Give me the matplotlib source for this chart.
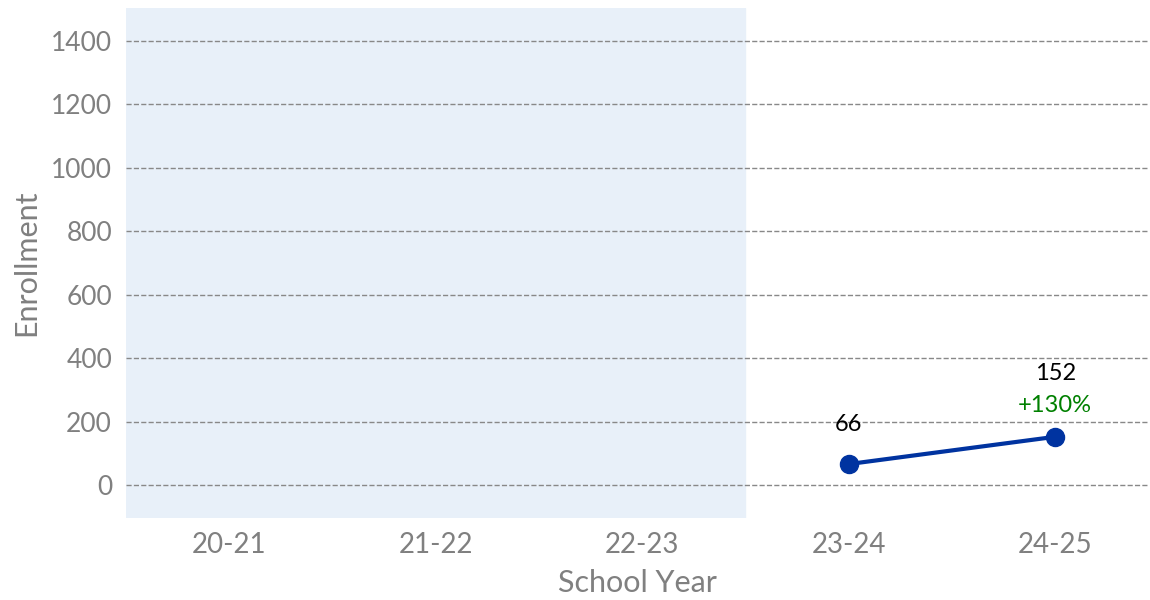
import matplotlib.pyplot as plt

plt.rcParams['font.family'] = ['Lato', 'DejaVu Sans']

years = ['20-21', '21-22', '22-23', '23-24', '24-25']
enrollment = [None, None, None, 66, 152]
value_labels = ['66', '152']
change_labels = ['', '+130%']
yticks = [0, 200, 400, 600, 800, 1000, 1200, 1400]

fig = plt.figure(figsize=(11.5, 6), dpi=100)
ax = fig.add_axes([126 / 1150, 82 / 600, (1148 - 126) / 1150, 510 / 600])

ax.axvspan(-0.5, 2.5, color='#e8f0f9', zorder=0)

xs = [i for i, v in enumerate(enrollment) if v is not None]
ys = [v for v in enrollment if v is not None]
ax.plot(xs, ys, color='#0033a0', lw=3, marker='o', ms=13, zorder=3)

for x, y, lab, ch in zip(xs, ys, value_labels, change_labels):
    if ch:
        ax.text(x, y + 100, ch, ha='center', va='center', fontsize=17, color='#008000')
        ax.text(x, y + 200, lab, ha='center', va='center', fontsize=17, color='black')
    else:
        ax.text(x, y + 126, lab, ha='center', va='center', fontsize=17, color='black')

ax.set_xlim(-0.5, 4.45)
ax.set_ylim(-104, 1504)
ax.set_xticks(range(len(years)))
ax.set_xticklabels(years)
ax.set_yticks(yticks)
ax.grid(axis='y', color='#888888', linestyle='--', lw=1)
ax.set_axisbelow(True)
for s in ax.spines.values():
    s.set_visible(False)
ax.tick_params(length=0, colors='#808080', pad=10)
ax.tick_params(axis='x', labelsize=20)
ax.tick_params(axis='y', labelsize=19)
ax.set_xlabel('School Year', fontsize=22, color='#808080', labelpad=8)
ax.set_ylabel('Enrollment', fontsize=22, color='#808080', labelpad=8)

fig.savefig('out.png', dpi=100)
